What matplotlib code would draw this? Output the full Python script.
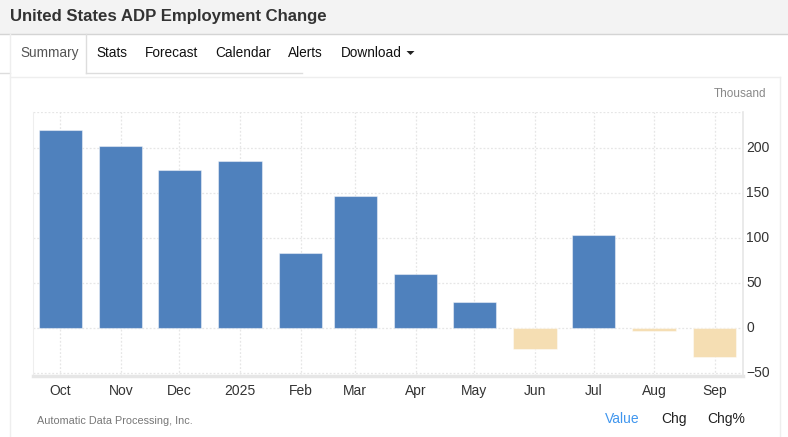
import numpy as np
import pandas as pd
import matplotlib
matplotlib.use("Agg")
import matplotlib.pyplot as plt
import matplotlib.patches as patches
import matplotlib.dates as mdates

plt.rcParams['font.family'] = ['Liberation Sans', 'DejaVu Sans']

# data (thousands)
months = ["2024-10-01", "2024-11-01", "2024-12-01", "2025-01-01", "2025-02-01", "2025-03-01",
          "2025-04-01", "2025-05-01", "2025-06-01", "2025-07-01", "2025-08-01", "2025-09-01"]
values = [220, 203, 176, 186, 84, 147, 60, 29, -23, 104, -3, -32]
tick_labels = ["Oct", "Nov", "Dec", "2025", "Feb", "Mar", "Apr", "May", "Jun", "Jul", "Aug", "Sep"]
y_ticks = [-50, 0, 50, 100, 150, 200]
tabs = ["Summary", "Stats", "Forecast", "Calendar", "Alerts", "Download"]
tab_x = [20, 96, 145, 215, 288, 341]

W, H = 788, 437
fig = plt.figure(figsize=(W / 100, H / 100), dpi=100)
fig.patch.set_facecolor("white")


def fx(px):
    return px / W


def fy(py):
    return 1 - py / H


def rect(x0, y0, x1, y1, **kw):
    fig.patches.append(patches.Rectangle((fx(x0), fy(y1)), fx(x1) - fx(x0), fy(y0) - fy(y1),
                                         transform=fig.transFigure, **kw))


def line(xs, ys, **kw):
    fig.add_artist(plt.Line2D([fx(x) for x in xs], [fy(y) for y in ys],
                              transform=fig.transFigure, **kw))


# header
rect(0, 0, W, 34, facecolor="#f3f3f3", edgecolor="none")
line([0, W], [34, 34], color="#d4d4d4", lw=1)
fig.text(fx(10), fy(17), "United States ADP Employment Change", fontsize=12.1,
         fontweight="bold", color="#333333", va="center", ha="left")

# tabs
line([0, 10], [73, 73], color="#dddddd", lw=1)
line([10, 10], [34, H], color="#eeeeee", lw=1)
line([86, 86], [34, 73], color="#dddddd", lw=1)
line([86, 302], [73, 73], color="#dddddd", lw=1)
line([10, 780], [77, 77], color="#eeeeee", lw=1)
line([780, 780], [77, H], color="#eeeeee", lw=1)
for i, (t, x) in enumerate(zip(tabs, tab_x)):
    fig.text(fx(x), fy(53), t, fontsize=9.8, color="#555555" if i == 0 else "#111111",
             va="center", ha="left")
fig.patches.append(patches.Polygon([(fx(406.5), fy(51)), (fx(414.5), fy(51)), (fx(410.5), fy(55))],
                                   closed=True, transform=fig.transFigure,
                                   facecolor="#222222", edgecolor="none"))

# chart area
ax = fig.add_axes([fx(32.7), fy(376), fx(743) - fx(32.7), fy(111.7) - fy(376)])
dates = pd.to_datetime(months)
colors = ["#4f81bd" if v >= 0 else "#f5deb3" for v in values]
ax.bar(dates, values, width=22.2, color=colors, edgecolor=(1, 1, 1, 0.45), linewidth=0.8,
       zorder=3)

ax.set_xlim(dates[0] - pd.Timedelta(days=14.1), dates[-1] + pd.Timedelta(days=14.5))
ax.set_ylim(-53, 240.7)
ax.set_xticks(dates)
ax.set_xticklabels(tick_labels)
ax.set_yticks(y_ticks)
ax.yaxis.tick_right()
ax.tick_params(axis="both", length=0, labelsize=10, labelcolor="#333333")
ax.tick_params(axis="x", pad=6)
ax.tick_params(axis="y", pad=2.5)
for lbl in ax.get_yticklabels():
    lbl.set_va("center")
    lbl.set_y(lbl.get_position()[1])
ax.grid(True, color="#e6e6e6", linestyle=(0, (1.5, 1.5)), linewidth=0.9, zorder=0)
ax.axhline(240.7, color="#e6e6e6", linestyle=(0, (1.5, 1.5)), linewidth=0.9, zorder=0)
ax.spines["top"].set_visible(False)
ax.spines["left"].set_color("#eeeeee")
ax.spines["right"].set_color("#e6e6e6")
ax.spines["bottom"].set_color("#e6e6e6")
ax.spines["bottom"].set_linewidth(2.5)
ax.spines["right"].set_linewidth(1.2)

fig.text(fx(766), fy(94), "Thousand", fontsize=8.5, color="#888888", ha="right", va="center")

# footer
fig.text(fx(37), fy(421), "Automatic Data Processing, Inc.", fontsize=7.8, color="#777777",
         ha="left", va="center")
fig.text(fx(605), fy(419), "Value", fontsize=10, color="#4096ee", ha="left", va="center")
fig.text(fx(661), fy(419), "Chg", fontsize=10, color="#222222", ha="left", va="center")
fig.text(fx(707), fy(419), "Chg%", fontsize=10, color="#222222", ha="left", va="center")

fig.savefig("out.png", dpi=100)
